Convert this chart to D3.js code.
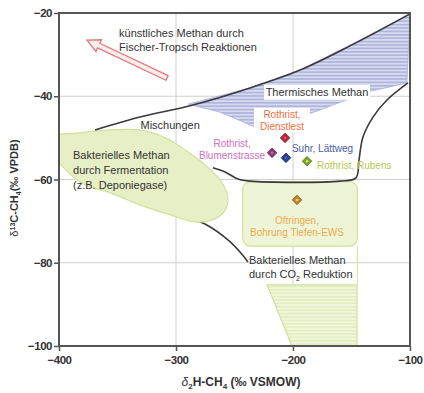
<!DOCTYPE html>
<html><head><meta charset="utf-8">
<script src="https://cdn.jsdelivr.net/npm/d3@7"></script>
<style>
html,body{margin:0;padding:0;background:#fff;}
svg{display:block;font-family:"Liberation Sans",Arial,sans-serif;}
</style></head>
<body>
<svg id="chart" width="424" height="393"></svg>
<script>
// ---- data (δ2H ‰ VSMOW, δ13C ‰ VPDB) ----
const xTicks = [-400, -300, -200, -100];
const yTicks = [-20, -40, -60, -80, -100];

const siteNames = ["Rothrist, Dienstlest", "Rothrist, Blumenstrasse", "Suhr, Lättweg", "Rothrist, Rubens", "Oftringen, Bohrung Tiefen-EWS"];
const siteH = [-206.8, -217.9, -206.0, -188.0, -196.6];
const siteC = [-50.0, -53.6, -54.8, -55.6, -64.9];
const siteColors = ["#b82a3a", "#8a3a72", "#2a3f8f", "#7f9c32", "#b9832f"];
const labelColors = ["#f07040", "#d070c0", "#4a5aa8", "#b8c850", "#f0aa50"];

const thermoH = [-289.7, -262.4, -230.8, -202.6, -176.9, -136.8, -102.6, -100, -151.3, -194.0, -236.8];
const thermoC = [-41.9, -43.8, -47.6, -45.7, -43.3, -39.0, -36.8, -20.2, -27.7, -33.7, -38.0];

const fermH = [-412, -382, -356, -331, -309, -292, -275, -261, -255.6, -259, -269, -284, -305, -331, -356, -382, -412];
const fermC = [-50.2, -48.8, -48.1, -48.1, -50.0, -52.9, -56.5, -60.6, -64.4, -67.8, -69.7, -70.2, -68.5, -66.1, -63.2, -60.6, -59.6];

const co2BoxH = [-243, -145];
const co2BoxC = [-60.5, -76.0];
const co2LowH = [-222.2, -145.3, -145.3, -200.9];
const co2LowC = [-85.3, -85.3, -100, -100];

const mixTopH = [-369.2, -330.8, -288.0, -236.8, -194.0, -151.3, -100];
const mixTopC = [-48.1, -45.0, -42.3, -38.0, -33.7, -27.9, -20.2];
const mixRightH = [-101.7, -119.7, -131.6, -140.2, -143.6, -146.2, -159.8, -236.8, -247, -258.1, -268.4];
const mixRightC = [-36.8, -40.9, -45.0, -49.8, -55.3, -59.6, -60.4, -60.4, -59.9, -58.2, -57.2];
const mixLowH = [-290, -275.2, -255.6, -245.3, -238.5];
const mixLowC = [-69.0, -70.7, -74.5, -77.4, -79.8];

const arrowFromH = -307.7, arrowFromC = -35.6, arrowToH = -376.1, arrowToC = -26.5;

// ---- layout ----
const W = 424, H = 393;
const m = {l: 59, r: 14, t: 13, b: 47};
const svg = d3.select("#chart");
const x = d3.scaleLinear().domain([-400, -100]).range([m.l, W - m.r]);
const y = d3.scaleLinear().domain([-100, -20]).range([H - m.b, m.t]);

const defs = svg.append("defs");
const pb = defs.append("pattern").attr("id", "hatchBlue").attr("patternUnits", "userSpaceOnUse").attr("width", 6).attr("height", 3.4);
pb.append("rect").attr("width", 6).attr("height", 3.4).attr("fill", "#d8dbf0");
pb.append("line").attr("x1", 0).attr("x2", 6).attr("y1", 0.8).attr("y2", 0.8).attr("stroke", "#949bd0").attr("stroke-width", 1);
const pg = defs.append("pattern").attr("id", "hatchGreen").attr("patternUnits", "userSpaceOnUse").attr("width", 6).attr("height", 3.4);
pg.append("rect").attr("width", 6).attr("height", 3.4).attr("fill", "#f1f6dc");
pg.append("line").attr("x1", 0).attr("x2", 6).attr("y1", 0.8).attr("y2", 0.8).attr("stroke", "#dce8ae").attr("stroke-width", 1);
defs.append("clipPath").attr("id", "plotClip").append("rect")
  .attr("x", m.l).attr("y", m.t).attr("width", W - m.l - m.r).attr("height", H - m.t - m.b);

// grid
const grid = svg.append("g");
grid.selectAll(".gx").data(xTicks.slice(1, -1)).join("line")
  .attr("x1", d => x(d)).attr("x2", d => x(d)).attr("y1", m.t).attr("y2", H - m.b)
  .attr("stroke", "#cfcfcf").attr("stroke-width", 1);
grid.selectAll(".gy").data(yTicks.slice(1, -1)).join("line")
  .attr("x1", m.l).attr("x2", W - m.r).attr("y1", d => y(d)).attr("y2", d => y(d))
  .attr("stroke", "#cfcfcf").attr("stroke-width", 1);

const plot = svg.append("g").attr("clip-path", "url(#plotClip)");
const zip = (a, b) => a.map((v, i) => [x(v), y(b[i])]);
const lineLin = d3.line();
const lineCurve = d3.line().curve(d3.curveCatmullRom.alpha(0.5));

// thermal methane region
plot.append("path").attr("d", lineLin(zip(thermoH, thermoC)) + "Z")
  .attr("fill", "url(#hatchBlue)").attr("stroke", "#a8aedb").attr("stroke-width", 0.8);

// mixing lower boundary (partly under the fermentation blob)
plot.append("path").attr("d", lineCurve(zip(mixLowH, mixLowC)))
  .attr("fill", "none").attr("stroke", "#3a3a3a").attr("stroke-width", 1.6);

// fermentation blob
plot.append("path").attr("d", d3.line().curve(d3.curveCatmullRomClosed)(zip(fermH, fermC).slice(0, -1)))
  .attr("fill", "#e6efc6").attr("stroke", "#d2e09c").attr("stroke-width", 1.2);

// CO2 reduction upper box
plot.append("rect")
  .attr("x", x(co2BoxH[0])).attr("y", y(co2BoxC[0]))
  .attr("width", x(co2BoxH[1]) - x(co2BoxH[0])).attr("height", y(co2BoxC[1]) - y(co2BoxC[0]))
  .attr("rx", 8).attr("fill", "#eef4d6").attr("stroke", "#d2e09c").attr("stroke-width", 1.2);
// right edge connection
plot.append("line").attr("x1", x(co2BoxH[1])).attr("x2", x(co2BoxH[1]))
  .attr("y1", y(co2BoxC[1])).attr("y2", y(co2LowC[0]))
  .attr("stroke", "#d8e4a6").attr("stroke-width", 1.2);
// CO2 reduction lower hatched
plot.append("path").attr("d", lineLin(zip(co2LowH, co2LowC)) + "Z")
  .attr("fill", "url(#hatchGreen)").attr("stroke", "#d2e09c").attr("stroke-width", 1.2);

// mixing boundaries
[[mixTopH, mixTopC], [mixRightH, mixRightC]].forEach(([a, b]) => {
  plot.append("path").attr("d", lineCurve(zip(a, b)))
    .attr("fill", "none").attr("stroke", "#3a3a3a").attr("stroke-width", 1.6);
});

// arrow (Fischer-Tropsch)
(function () {
  const x0 = x(arrowFromH), y0 = y(arrowFromC), x1 = x(arrowToH), y1 = y(arrowToC);
  const ang = Math.atan2(y1 - y0, x1 - x0);
  const len = Math.hypot(x1 - x0, y1 - y0);
  const hl = 13, hw = 6.5, sw = 2.6;
  const pts = [[0, -sw], [len - hl, -sw], [len - hl, -hw], [len, 0], [len - hl, hw], [len - hl, sw], [0, sw]];
  const c = Math.cos(ang), s = Math.sin(ang);
  const P = pts.map(([u, v]) => [x0 + u * c - v * s, y0 + u * s + v * c]);
  svg.append("path").attr("d", lineLin(P) + "Z")
    .attr("fill", "#fdecec").attr("stroke", "#e07a7a").attr("stroke-width", 1.3).attr("stroke-linejoin", "miter");
})();

// region labels
const txtCol = "#333";
function label(lines, hx, cy0, dy, anchor, size, color, weight) {
  const t = svg.append("text").attr("font-size", size).attr("fill", color)
    .attr("text-anchor", anchor).attr("font-weight", weight || "normal");
  lines.forEach((l, i) => {
    t.append("tspan").attr("x", x(hx)).attr("y", y(cy0) + i * dy).text(l);
  });
  return t;
}
label(["künstliches Methan durch", "Fischer-Tropsch Reaktionen"], -348.7, -25.8, 14, "start", 11, txtCol);

// Thermisches Methan with white background
svg.append("rect").attr("x", x(-179.5) - 53).attr("y", y(-39.9) - 11).attr("width", 106).attr("height", 15).attr("fill", "#fff");
label(["Thermisches Methan"], -179.5, -39.9, 0, "middle", 11, txtCol);
label(["Mischungen"], -305, -47.9, 0, "middle", 11, txtCol);
label(["Bakterielles Methan", "durch Fermentation", "(z.B. Deponiegase)"], -388, -55.1, 15, "start", 11, txtCol);
const co2t = svg.append("text").attr("font-size", 11).attr("fill", txtCol);
co2t.append("tspan").attr("x", x(-237.6)).attr("y", y(-80.3)).text("Bakterielles Methan");
co2t.append("tspan").attr("x", x(-237.6)).attr("y", y(-80.3) + 14).text("durch CO");
co2t.append("tspan").attr("font-size", 7).attr("dy", 3).text("2");
co2t.append("tspan").attr("dy", -3).text(" Reduktion");

// point labels
svg.append("rect").attr("x", x(-209.4) - 28).attr("y", y(-45.2) - 10).attr("width", 56).attr("height", 25).attr("fill", "#fff");
label(["Rothrist,", "Dienstlest"], -209.4, -45.2, 12.5, "middle", 10, labelColors[0]);
label(["Rothrist,", "Blumenstrasse"], -252.1, -52.2, 12, "middle", 10, labelColors[1]);
label(["Suhr, Lättweg"], -200.9, -53.4, 0, "start", 10, labelColors[2]);
label(["Rothrist, Rubens"], -179.5, -57.5, 0, "start", 10, labelColors[3]);
label(["Oftringen,", "Bohrung Tiefen-EWS"], -196.6, -70.7, 12, "middle", 10, labelColors[4]);

// diamonds
const diamond = d3.symbol().type(d3.symbolSquare).size(46);
svg.append("g").selectAll("g").data(siteNames).join("g")
  .attr("transform", (d, i) => `translate(${x(siteH[i])},${y(siteC[i])}) rotate(45)`)
  .each(function (d, i) {
    const g = d3.select(this);
    g.append("path").attr("d", diamond()).attr("fill", siteColors[i]).attr("stroke", d3.color(siteColors[i]).darker(0.6)).attr("stroke-width", 0.8);
    g.append("path").attr("d", d3.symbol().type(d3.symbolSquare).size(6)()).attr("fill", d3.color(siteColors[i]).brighter(1.2));
  });

// frame
svg.append("rect").attr("x", m.l).attr("y", m.t).attr("width", W - m.l - m.r).attr("height", H - m.t - m.b)
  .attr("fill", "none").attr("stroke", "#555").attr("stroke-width", 2);

// axes
const xAxis = svg.append("g").attr("transform", `translate(0,${H - m.b})`)
  .call(d3.axisBottom(x).tickValues(xTicks).tickSize(5).tickPadding(3).tickFormat(d3.format("d")));
const yAxis = svg.append("g").attr("transform", `translate(${m.l},0)`)
  .call(d3.axisLeft(y).tickValues(yTicks).tickSize(5).tickPadding(2).tickFormat(d3.format("d")));
[xAxis, yAxis].forEach(a => {
  a.select(".domain").remove();
  a.selectAll(".tick line").attr("stroke", "#555").attr("stroke-width", 1.5);
  a.selectAll(".tick text").attr("font-size", 11.5).attr("font-weight", "bold").attr("fill", "#333")
    .attr("font-family", "'Liberation Sans',Arial,sans-serif").style("letter-spacing", "-0.5px");
});
xAxis.selectAll(".tick text").attr("dy", "0.9em");

// axis titles
const xt = svg.append("text").attr("x", 241).attr("y", 386).attr("text-anchor", "middle")
  .attr("font-size", 12).attr("font-weight", "bold").attr("fill", "#333");
xt.append("tspan").attr("font-style", "italic").attr("font-weight", "normal").text("δ");
xt.append("tspan").attr("font-size", 8).attr("dy", 3).text("2");
xt.append("tspan").attr("dy", -3).text("H-CH");
xt.append("tspan").attr("font-size", 8).attr("dy", 3).text("4");
xt.append("tspan").attr("dy", -3).text(" (‰ VSMOW)");

const yt = svg.append("text").attr("transform", "translate(18,188) rotate(-90)").attr("text-anchor", "middle")
  .attr("font-size", 11).attr("font-weight", "bold").attr("fill", "#333");
yt.append("tspan").attr("font-weight", "normal").text("δ");
yt.append("tspan").attr("font-size", 7).attr("dy", -3).text("13");
yt.append("tspan").attr("dy", 3).text("C-CH");
yt.append("tspan").attr("font-size", 7).attr("dy", 3).text("4");
yt.append("tspan").attr("dy", -3).text("(‰ VPDB)");
</script>
</body></html>
